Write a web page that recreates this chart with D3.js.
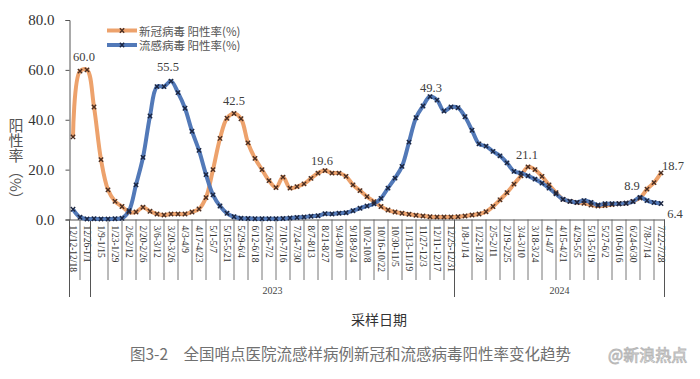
<!DOCTYPE html>
<html><head><meta charset="utf-8">
<script src="https://cdn.jsdelivr.net/npm/d3@7"></script>
<style>body{margin:0;background:#fff}svg{display:block}</style>
</head><body><svg id="c" width="700" height="379"></svg>
<script>
// ---------------- DATA ----------------
const weeks = [
 "12/12-12/18","12/19-12/25","12/26-1/1",
 "1/2-1/8","1/9-1/15","1/16-1/22","1/23-1/29","1/30-2/5","2/6-2/12","2/13-2/19","2/20-2/26","2/27-3/5",
 "3/6-3/12","3/13-3/19","3/20-3/26","3/27-4/2","4/3-4/9","4/10-4/16","4/17-4/23","4/24-4/30",
 "5/1-5/7","5/8-5/14","5/15-5/21","5/22-5/28","5/29-6/4","6/5-6/11","6/12-6/18","6/19-6/25",
 "6/26-7/2","7/3-7/9","7/10-7/16","7/17-7/23","7/24-7/30","7/31-8/6","8/7-8/13","8/14-8/20",
 "8/21-8/27","8/28-9/3","9/4-9/10","9/11-9/17","9/18-9/24","9/25-10/1","10/2-10/8","10/9-10/15",
 "10/16-10/22","10/23-10/29","10/30-11/5","11/6-11/12","11/13-11/19","11/20-11/26","11/27-12/3",
 "12/4-12/10","12/11-12/17","12/18-12/24","12/25-12/31",
 "1/1-1/7","1/8-1/14","1/15-1/21","1/22-1/28","1/29-2/4","2/5-2/11","2/12-2/18","2/19-2/25",
 "2/26-3/3","3/4-3/10","3/11-3/17","3/18-3/24","3/25-3/31","4/1-4/7","4/8-4/14","4/15-4/21",
 "4/22-4/28","4/29-5/5","5/6-5/12","5/13-5/19","5/20-5/26","5/27-6/2","6/3-6/9","6/10-6/16",
 "6/17-6/23","6/24-6/30","7/1-7/7","7/8-7/14","7/15-7/21","7/22-7/28"
];
const yearNames  = ["", "2023", "2024"];
const yearStarts = [0, 3, 55];
const yearEnds   = [2, 54, 84];

const covid = [
 33.1,59.5,60.0,45.1,24.0,11.9,7.3,5.2,3.0,3.0,4.9,3.3,2.2,1.8,2.2,2.2,2.2,3.0,4.2,8.8,
 20.0,32.5,40.6,42.5,40.4,30.7,24.5,20.0,15.6,12.8,17.0,12.6,13.2,14.3,16.5,18.6,19.6,18.6,18.6,17.3,
 13.9,11.6,9.2,7.2,5.2,3.8,3.0,2.5,2.1,1.7,1.4,1.1,1.0,1.0,1.0,1.1,1.4,1.8,2.2,3.1,
 5.2,7.9,10.8,14.2,17.5,21.1,20.0,17.3,13.9,10.8,8.1,7.3,6.8,6.5,5.8,5.4,5.6,6.0,6.3,6.5,
 7.3,8.6,12.2,14.8,18.7
];
const flu = [
 4.1,0.9,0.2,0.3,0.2,0.2,0.3,0.5,3.5,13.9,24.9,41.5,53.3,53.3,55.5,50.9,44.6,35.4,27.7,18.0,
 9.9,5.4,2.5,1.1,0.5,0.4,0.3,0.3,0.3,0.3,0.4,0.6,0.8,1.0,1.3,1.5,2.3,2.2,2.5,2.7,
 3.5,4.5,5.4,6.3,8.5,12.6,16.6,21.3,31.0,40.8,45.5,49.3,47.9,43.5,45.1,44.8,41.2,35.8,30.3,29.4,
 27.3,25.5,22.7,19.3,18.6,17.5,16.2,14.6,12.6,10.3,8.1,7.3,6.9,7.6,6.9,5.8,6.3,6.3,6.3,6.5,
 7.2,8.9,7.6,6.8,6.4
];
const seriesNames = ["新冠病毒 阳性率(%)", "流感病毒 阳性率(%)"];
const yTicks = [0, 20, 40, 60, 80];
// labelled points: series index, week index
const annSeries = [0, 1, 0, 0, 1, 0, 1, 0, 1];
const annIndex  = [2, 14, 23, 36, 51, 65, 81, 84, 84];

// ---------------- DRAW ----------------
const svg = d3.select("#c");
const serif = "'Liberation Serif','Times New Roman',serif";
const cjk = "'Noto Sans CJK SC','Noto Sans',sans-serif";
const x = d3.scaleBand().domain(d3.range(weeks.length)).range([69.5, 664.5]);
const xc = i => x(i) + x.bandwidth() / 2;
const y = d3.scaleLinear().domain([0, 80]).range([219.5, 20]);
const allSeries = [covid, flu];
const colors = ["#EDA26C", "#5279B8"];
const markColors = ["#4a2e22", "#1b2540"];

// y axis
const ya = svg.append("g").attr("transform", "translate(69.5,0)")
  .call(d3.axisLeft(y).tickValues(yTicks).tickFormat(d3.format(".1f")).tickSize(4).tickPadding(11));
ya.select(".domain").attr("stroke", "#555");
ya.selectAll(".tick line").attr("stroke", "#555");
ya.selectAll(".tick text").attr("font-family", serif).attr("font-size", 15).attr("fill", "#333");
svg.append("line").attr("x1", 69.5).attr("x2", 69.5).attr("y1", y(0)).attr("y2", 297).attr("stroke", "#555");

// x axis
const labelIdx = d3.range(0, weeks.length, 2);
const xa = svg.append("g").attr("transform", `translate(0,${y(0)})`)
  .call(d3.axisBottom(x).tickValues(labelIdx).tickFormat(i => weeks[i]).tickSize(0).tickSizeOuter(0));
xa.select(".domain").attr("stroke", "#555");
xa.selectAll(".tick text")
  .attr("font-family", serif).attr("font-size", 9.5).attr("fill", "#333")
  .attr("text-anchor", "start").attr("dominant-baseline", "central")
  .attr("x", 0).attr("y", 0).attr("dy", null)
  .attr("transform", "translate(0,6) rotate(90)");

// short tick lines between labels
const sepX = yearStarts.slice(1).map(i => x(i));
const tickIdx = d3.range(1, weeks.length, 2).filter(i => sepX.every(s => Math.abs(xc(i) - s) > 5));
svg.append("g").selectAll("line").data(tickIdx).join("line")
  .attr("x1", i => xc(i)).attr("x2", i => xc(i)).attr("y1", y(0)).attr("y2", 280)
  .attr("stroke", "#666").attr("stroke-width", 0.9);
const longX = sepX.concat([x(weeks.length - 1) + x.bandwidth()]);
svg.append("g").selectAll("line").data(longX).join("line")
  .attr("x1", d => d).attr("x2", d => d).attr("y1", y(0)).attr("y2", 297)
  .attr("stroke", "#555").attr("stroke-width", 1);
svg.append("g").selectAll("text").data(yearNames).join("text")
  .attr("x", (d, k) => (x(yearStarts[k]) + x(yearEnds[k]) + x.bandwidth()) / 2)
  .attr("y", 290).attr("text-anchor", "middle").attr("dominant-baseline", "central")
  .attr("font-family", serif).attr("font-size", 10).attr("fill", "#444").text(d => d);

// axis titles
svg.append("text").attr("x", 379).attr("y", 319).attr("text-anchor", "middle").attr("dominant-baseline", "central")
  .attr("font-family", cjk).attr("font-size", 14).attr("fill", "#333").text("采样日期");
svg.append("text").attr("x", 16).attr("y", 118)
  .style("writing-mode", "vertical-rl").attr("font-family", cjk).attr("font-size", 15)
  .attr("fill", "#555").text("阳性率（%）");

// lines
const line = d3.line().x((d, i) => xc(i)).y(d => y(d)).curve(d3.curveCatmullRom.alpha(0.5));
const sym = d3.symbol().type(d3.symbolX).size(14);
allSeries.forEach((s, k) => {
  svg.append("path").datum(s).attr("d", line).attr("fill", "none")
    .attr("stroke", colors[k]).attr("stroke-width", 4).attr("stroke-linejoin", "round");
});
allSeries.forEach((s, k) => {
  svg.append("g").selectAll("path").data(s).join("path")
    .attr("transform", (d, i) => `translate(${xc(i)},${y(d)})`)
    .attr("d", sym).attr("fill", "none").attr("stroke", markColors[k]).attr("stroke-width", 1.4);
});

// data labels
const annDx = [-3, -3, 0, -3, 1, -1, -8, 12, 14];
const annDy = [-9, -10, -9, -6, -5, -8, -7, -3, 14];
svg.append("g").selectAll("text").data(annIndex).join("text")
  .attr("x", (d, k) => xc(d) + annDx[k])
  .attr("y", (d, k) => y(allSeries[annSeries[k]][d]) + annDy[k])
  .attr("text-anchor", "middle")
  .attr("font-family", serif).attr("font-size", 12.5).attr("fill", "#404040")
  .text((d, k) => d3.format(".1f")(allSeries[annSeries[k]][d]));

// legend
const lg = svg.append("g");
seriesNames.forEach((name, k) => {
  const ly = 30.5 + k * 14.5;
  lg.append("line").attr("x1", 107).attr("x2", 137).attr("y1", ly).attr("y2", ly)
    .attr("stroke", colors[k]).attr("stroke-width", 4);
  lg.append("path").attr("transform", `translate(122,${ly})`).attr("d", sym)
    .attr("fill", "none").attr("stroke", markColors[k]).attr("stroke-width", 1.4);
  lg.append("text").attr("x", 139).attr("y", ly).attr("dominant-baseline", "central")
    .attr("font-family", cjk).attr("font-size", 11.5).attr("fill", "#555").text(name);
});

// caption + watermark
svg.append("text").attr("x", 130).attr("y", 353).attr("dominant-baseline", "central")
  .attr("font-family", cjk).attr("font-size", 15.5).attr("fill", "#707070")
  .text("图3-2　全国哨点医院流感样病例新冠和流感病毒阳性率变化趋势");
svg.append("text").attr("x", 608).attr("y", 354).attr("dominant-baseline", "central")
  .attr("font-family", cjk).attr("font-size", 16).attr("fill", "#fff")
  .attr("stroke", "#b8b8b8").attr("stroke-width", 0.9).text("@新浪热点");
</script></body></html>
